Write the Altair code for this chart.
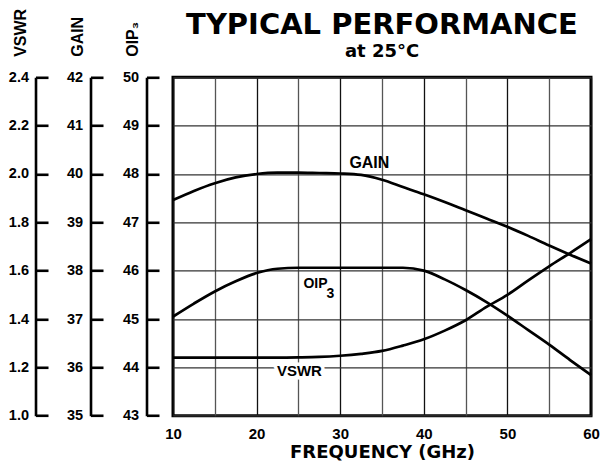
import altair as alt
import pandas as pd

# ---------------- data ----------------
freq = [10, 12.5, 15, 17.5, 20, 22.5, 25, 27.5, 30, 32.5, 35, 37.5, 40,
        42.5, 45, 47.5, 50, 52.5, 55, 57.5, 60]
gain = [39.46, 39.65, 39.81, 39.93, 40.00, 40.03, 40.03, 40.02, 40.01, 39.98,
        39.88, 39.73, 39.58, 39.42, 39.25, 39.08, 38.91, 38.72, 38.52, 38.33, 38.15]
oip3 = [45.05, 45.32, 45.57, 45.78, 45.95, 46.04, 46.06, 46.06, 46.06, 46.06,
        46.06, 46.06, 46.00, 45.82, 45.60, 45.35, 45.07, 44.77, 44.47, 44.15, 43.84]
vswr = [1.24, 1.24, 1.24, 1.24, 1.24, 1.24, 1.241, 1.243, 1.248, 1.256,
        1.268, 1.29, 1.316, 1.352, 1.395, 1.45, 1.50, 1.56, 1.618, 1.673, 1.73]

vswr_ticks = [1.0, 1.2, 1.4, 1.6, 1.8, 2.0, 2.2, 2.4]
gain_ticks = [35, 36, 37, 38, 39, 40, 41, 42]
oip3_ticks = [43, 44, 45, 46, 47, 48, 49, 50]
freq_grid = [10, 15, 20, 25, 30, 35, 40, 45, 50, 55, 60]

gain_label = {"freq": [31.1], "gain": [40.12], "label": ["GAIN"]}
oip3_label = {"freq": [25.6], "oip3": [45.635], "label": ["OIP"], "sub": ["3"]}
vswr_label = {"freq": [25.12], "vswr": [1.164], "label": ["VSWR"]}

df = pd.DataFrame({"freq": freq, "gain": gain, "oip3": oip3, "vswr": vswr})

PLOT_W = 418
PLOT_H = 338.4
NUM_FONT = "Liberation Sans"
TITLE_FONT = "DejaVu Sans"

x_enc = alt.X(
    "freq:Q",
    scale=alt.Scale(domain=[10, 60], nice=False, zero=False),
    axis=alt.Axis(
        values=freq_grid,
        labelExpr="datum.value % 10 === 0 ? datum.label : ''",
        grid=True,
        gridColor={"condition": {"test": "datum.value % 10 === 0", "value": "#111111"}, "value": "#555555"},
        gridWidth=1.3,
        domain=False,
        ticks=False,
        labelFlush=False,
        labelPadding=11,
        labelFont=NUM_FONT,
        labelFontSize=15,
        labelFontWeight="bold",
        labelColor="black",
        title="FREQUENCY (GHz)",
        titleFont=TITLE_FONT,
        titleFontSize=18,
        titleFontWeight="bold",
        titleColor="black",
        titlePadding=2,
    ),
)


def yaxis(ticks, offset, fmt, title, title_x, label_pad, grid=False):
    return alt.Axis(
        orient="right",
        offset=offset,
        values=ticks,
        format=fmt,
        domainColor="black",
        domainWidth=2.6,
        tickColor="black",
        tickWidth=2.6,
        tickSize=12.5,
        labelAlign="right",
        labelBaseline="middle",
        labelPadding=label_pad,
        labelFont=NUM_FONT,
        labelFontSize=14.5,
        labelFontWeight="bold",
        labelColor="black",
        title=title,
        titleAngle=270,
        titleX=title_x,
        titleY=-21,
        titleAlign="left",
        titleBaseline="alphabetic",
        titleFont=NUM_FONT,
        titleFontSize=16,
        titleFontWeight="bold",
        titleColor="black",
        grid=grid,
        gridColor="#333333",
        gridWidth=1.3,
    )


gain_scale = alt.Scale(domain=[35, 42], nice=False, zero=False)
oip3_scale = alt.Scale(domain=[43, 50], nice=False, zero=False)
vswr_scale = alt.Scale(domain=[1.0, 2.4], nice=False, zero=False)

line_kw = dict(color="black", strokeWidth=2.7, interpolate="monotone")
text_kw = dict(font=NUM_FONT, fontWeight="bold", color="black", baseline="alphabetic")

base = alt.Chart(df)

oip3_line = base.mark_line(**line_kw).encode(
    x=x_enc,
    y=alt.Y("oip3:Q", scale=oip3_scale,
            axis=yaxis(oip3_ticks, -(PLOT_W + 26.5), "d", "OIP₃", -9.5, -20.5, grid=True)),
)
gain_line = base.mark_line(**line_kw).encode(
    x=x_enc,
    y=alt.Y("gain:Q", scale=gain_scale,
            axis=yaxis(gain_ticks, -(PLOT_W + 82.5), "d", "GAIN", -8.5, -20.5)),
)
vswr_line = base.mark_line(**line_kw).encode(
    x=x_enc,
    y=alt.Y("vswr:Q", scale=vswr_scale,
            axis=yaxis(vswr_ticks, -(PLOT_W + 137.5), ".1f", "VSWR", -10.5, -19.5)),
)

gain_text = alt.Chart(pd.DataFrame(gain_label)).mark_text(align="left", fontSize=16, **text_kw).encode(
    x=x_enc, y=alt.Y("gain:Q", scale=gain_scale, axis=None), text="label:N"
)
oip3_text = alt.Chart(pd.DataFrame(oip3_label)).mark_text(align="left", fontSize=14, **text_kw).encode(
    x=x_enc, y=alt.Y("oip3:Q", scale=oip3_scale, axis=None), text="label:N"
)
oip3_sub = alt.Chart(pd.DataFrame(oip3_label)).mark_text(align="left", fontSize=14, dx=23, dy=10, **text_kw).encode(
    x=x_enc, y=alt.Y("oip3:Q", scale=oip3_scale, axis=None), text="sub:N"
)
vswr_halo = alt.Chart(pd.DataFrame(vswr_label)).mark_text(
    align="center", fontSize=15, font=NUM_FONT, fontWeight="bold", baseline="alphabetic",
    color="white", stroke="white", strokeWidth=7,
).encode(x=x_enc, y=alt.Y("vswr:Q", scale=vswr_scale, axis=None), text="label:N")
vswr_text = alt.Chart(pd.DataFrame(vswr_label)).mark_text(align="center", fontSize=15, **text_kw).encode(
    x=x_enc, y=alt.Y("vswr:Q", scale=vswr_scale, axis=None), text="label:N"
)

chart = alt.layer(
    oip3_line, gain_line, vswr_line,
    gain_text, oip3_text, oip3_sub, vswr_halo, vswr_text,
).resolve_scale(y="independent").properties(
    width=PLOT_W,
    height=PLOT_H,
    autosize=alt.AutoSizeParams(type="none"),
    padding={"left": 165, "top": 69.3, "right": 11, "bottom": 47},
    background="white",
    title=alt.Title(
        "TYPICAL PERFORMANCE",
        subtitle="at 25°C",
        anchor="middle",
        font=TITLE_FONT,
        fontSize=29,
        fontWeight="bold",
        color="black",
        subtitleFont=TITLE_FONT,
        subtitleFontSize=18,
        subtitleFontWeight="bold",
        subtitleColor="black",
        subtitlePadding=3,
        dy=57,
    ),
).configure_view(stroke="black", strokeWidth=3)

chart.save("out.html", embed_options={"renderer": "svg", "actions": False})
